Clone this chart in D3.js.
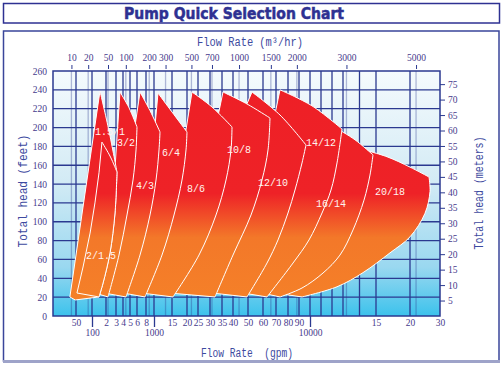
<!DOCTYPE html>
<html>
<head>
<meta charset="utf-8">
<script src="https://cdn.jsdelivr.net/npm/d3@7"></script>
<style>
body { margin: 0; background: #fff; }
text { font-family: "Liberation Serif", serif; }
</style>
</head>
<body>
<script>
// ---- data ----
const feetTicks = d3.range(0, 261, 20);
const meterTicks = d3.range(5, 76, 5);
const gpmMinorTicks = [50, 200, 300, 400, 500, 600, 800, 1500, 2000, 2500, 3000, 3500, 4000, 5000, 6000, 7000, 8000, 9000, 15000, 20000, 30000];
const gpmMinorLabels = ["50", "2", "3", "4", "5", "6", "8", "15", "20", "25", "30", "35", "40", "50", "60", "70", "80", "90", "15", "20", "30"];
const gpmMajorTicks = [100, 1000, 10000];
const gpmGridExtra = [11000, 12000, 13000, 14000];
const m3hTicks = [10, 20, 50, 100, 200, 300, 500, 700, 1000, 1500, 2000, 3000, 5000];
const GPM_PER_M3H = 4.403;
const FT_PER_M = 3.2808;

// pump models, back to front; outlines in [gpm, feet]
const pumpModels = ["20/18", "16/14", "14/12", "12/10", "10/8", "8/6", "6/4", "4/3", "3/2", "1.5/1", "2/1.5"];
const pumpTop = [
  [[13909, 178], [16618, 169], [20000, 158], [26333, 147.5]],
  [[12364, 199.5], [13727, 187], [14818, 171]],
  [[7333, 240], [10182, 223], [12909, 198.4]],
  [[5267, 237.7], [7333, 213.3], [9636, 181.5]],
  [[3545, 237.7], [4933, 225], [6538, 210.1]],
  [[2227, 237.7], [3083, 221.8], [3955, 200.6]],
  [[1111, 236.6], [1500, 216.5], [2000, 195.3]],
  [[667, 237.7], [900, 218], [1167, 195.3]],
  [[357, 237.7], [486, 221], [600, 200.6]],
  [[157, 238.8], [230, 196.3], [314, 152.8]],
  [[171, 184.6], [245, 168.7], [314, 152.8]]
];
const pumpRight = [
  [[26333, 147.5], [26667, 132], [25000, 109], [20000, 84], [17059, 67], [14212, 46], [12455, 31], [9273, 20.2]],
  [[14818, 171], [14636, 149.6], [14273, 123], [13606, 91.3], [12727, 64.7], [11182, 45.6], [9273, 29.7], [7333, 20.2]],
  [[12909, 198.4], [12455, 162.4], [11909, 133.7], [11091, 109.3], [9909, 80.7], [8455, 56.2], [6308, 20.2]],
  [[9636, 181.5], [9273, 162.4], [8636, 133.7], [8000, 109.3], [7167, 80.7], [6308, 56.2], [4933, 20.2]],
  [[6538, 210.1], [6385, 176.2], [5933, 144.3], [5200, 107.2], [4000, 64.7], [3208, 20.2]],
  [[3955, 200.6], [3909, 176.2], [3682, 144.3], [3250, 107.2], [2542, 64.7], [1533, 20.2]],
  [[2000, 195.3], [1967, 176.2], [1833, 144.3], [1567, 107.2], [1222, 64.7], [778, 20.2]],
  [[1167, 195.3], [1139, 176.2], [1056, 144.3], [900, 107.2], [667, 64.7], [443, 20.2]],
  [[600, 200.6], [586, 176.2], [543, 144.3], [457, 107.2], [343, 64.7], [220, 20.2]],
  [[314, 152.8], [290, 109.3], [240, 66.9], [179, 35], [150, 20.2]],
  [[314, 152.8], [290, 109.3], [240, 66.9], [179, 35], [150, 20.2]]
];
const pumpBase = [
  [[9273, 20.2], [6923, 24.4], [13909, 178]],
  [[7333, 20.2], [5933, 24.4], [12364, 199.5]],
  [[6308, 20.2], [4667, 24.4], [6923, 214.4], [7333, 240]],
  [[4933, 20.2], [3083, 24.4], [4867, 222.9], [5267, 237.7]],
  [[3208, 20.2], [1417, 24.4], [3333, 212.2], [3545, 237.7]],
  [[1533, 20.2], [689, 24.4], [1933, 191], [2227, 237.7]],
  [[778, 20.2], [400, 24.4], [1028, 201.6], [1111, 236.6]],
  [[443, 20.2], [186, 24.4], [571, 201.6], [667, 237.7]],
  [[220, 20.2], [121, 24.4], [290, 157.1], [357, 237.7]],
  [[150, 20.2], [49, 17], [42, 20.2], [157, 238.8]],
  [[150, 20.2], [53, 24.4], [72, 52], [94, 88], [121, 120], [150, 152], [171, 184.6]]
];
const labelGpm = [17059, 11909, 11000, 6769, 4400, 2409, 1472, 778, 443, 240, 164];
const labelFt = [132.6, 119.9, 184.6, 142.2, 176.2, 135.8, 173, 138, 183.6, 195.3, 63.7];

// ---- layout ----
const W = 502, H = 366;
const plot = { left: 53, right: 440, top: 71, bottom: 316 };
const navy = "#2b3990";
const tickColor = "#463a8c";
const titleColor = "#3d4aa0";

const svg = d3.select("body").append("svg")
  .attr("width", W)
  .attr("height", H);

// the flow axis of the original is hand drawn and irregular, so it is a polylinear scale
const xKnotsGpm = [20, 50, 100, 200, 300, 400, 500, 600, 800, 1000, 1500, 2000, 2500, 3000, 3500, 4000, 5000, 6000, 7000, 8000, 9000, 10000, 11000, 12000, 13000, 15000, 20000, 30000];
const xKnotsPx = [53, 76, 92, 106, 116, 123, 130, 137, 146, 154, 172, 187, 198, 210, 222, 233, 248, 263, 276, 288, 299, 310, 321, 332, 343, 376, 410, 440];
const x = d3.scaleLinear().domain(xKnotsGpm).range(xKnotsPx);
const xTop = d3.scaleLinear().domain(xKnotsGpm.map(g => g / GPM_PER_M3H)).range(xKnotsPx);
const y = d3.scaleLinear().domain([0, 260]).range([plot.bottom, plot.top]);
const yM = d3.scaleLinear().domain([0, 260 / FT_PER_M]).range([plot.bottom, plot.top]);

const defs = svg.append("defs");
const bg = defs.append("linearGradient").attr("id", "bg")
  .attr("x1", 0).attr("y1", 0).attr("x2", 0).attr("y2", 1);
bg.append("stop").attr("offset", "0%").attr("stop-color", "#f5fafd");
bg.append("stop").attr("offset", "45%").attr("stop-color", "#d3ebf5");
bg.append("stop").attr("offset", "80%").attr("stop-color", "#9ad8f0");
bg.append("stop").attr("offset", "100%").attr("stop-color", "#3cc2ec");

const fire = defs.append("linearGradient").attr("id", "fire")
  .attr("gradientUnits", "userSpaceOnUse")
  .attr("x1", 0).attr("y1", plot.top).attr("x2", 0).attr("y2", plot.bottom);
fire.append("stop").attr("offset", "0%").attr("stop-color", "#ee1f26");
fire.append("stop").attr("offset", "50%").attr("stop-color", "#ee2227");
fire.append("stop").attr("offset", "68%").attr("stop-color", "#f37829");
fire.append("stop").attr("offset", "100%").attr("stop-color", "#f58228");

// frames
svg.append("rect")
  .attr("x", 3.5).attr("y", 3.5).attr("width", 496).attr("height", 19.5)
  .attr("fill", "none").attr("stroke", "#2e3192").attr("stroke-width", 1.5);
svg.append("rect")
  .attr("x", 3.5).attr("y", 31).attr("width", 495.5).attr("height", 330)
  .attr("fill", "none").attr("stroke", "#3a469a").attr("stroke-width", 1.5);
svg.append("line")
  .attr("x1", 3).attr("x2", 500).attr("y1", 361.5).attr("y2", 361.5)
  .attr("stroke", "#9ea3c9").attr("stroke-width", 3);

svg.append("text")
  .attr("x", 234).attr("y", 19)
  .attr("text-anchor", "middle")
  .attr("textLength", 220)
  .attr("lengthAdjust", "spacingAndGlyphs")
  .style("font-family", "'DejaVu Sans', sans-serif")
  .style("font-weight", "bold")
  .style("font-size", "15px")
  .attr("fill", "#2e3192")
  .attr("stroke", "#2e3192")
  .attr("stroke-width", 0.5)
  .text("Pump Quick Selection Chart");

// plot background
svg.append("rect")
  .attr("x", plot.left).attr("y", plot.top)
  .attr("width", plot.right - plot.left).attr("height", plot.bottom - plot.top)
  .attr("fill", "url(#bg)");

// grid
const grid = svg.append("g");
grid.selectAll(".hgrid")
  .data(feetTicks.filter(d => d > 0 && d < 260))
  .enter().append("line")
  .attr("x1", plot.left).attr("x2", plot.right)
  .attr("y1", d => y(d)).attr("y2", d => y(d))
  .attr("stroke", navy).attr("stroke-width", 1.3);
grid.selectAll(".vtop")
  .data(m3hTicks)
  .enter().append("line")
  .attr("x1", d => xTop(d)).attr("x2", d => xTop(d))
  .attr("y1", plot.top).attr("y2", plot.bottom)
  .attr("stroke", navy).attr("stroke-opacity", 0.35).attr("stroke-width", 1.3);
grid.selectAll(".vgrid")
  .data(gpmMinorTicks.concat(gpmMajorTicks, gpmGridExtra).filter(d => d < 30000))
  .enter().append("line")
  .attr("x1", d => x(d)).attr("x2", d => x(d))
  .attr("y1", plot.top).attr("y2", plot.bottom)
  .attr("stroke", navy).attr("stroke-width", 1.3);

// pump regions
const curveLine = d3.line().x(d => x(d[0])).y(d => y(d[1])).curve(d3.curveCatmullRom.alpha(0.5));
const straightLine = d3.line().x(d => x(d[0])).y(d => y(d[1]));

function outline(i) {
  return curveLine(pumpTop[i])
    + curveLine(pumpRight[i]).replace(/^M/, "L")
    + straightLine(pumpBase[i]).replace(/^M/, "L")
    + "Z";
}

svg.append("g").selectAll("path")
  .data(pumpModels)
  .enter().append("path")
  .attr("d", (d, i) => outline(i))
  .attr("fill", "url(#fire)")
  .attr("stroke", "#ffffff")
  .attr("stroke-width", 1)
  .attr("stroke-linejoin", "round");

svg.append("g").selectAll("text")
  .data(pumpModels)
  .enter().append("text")
  .attr("x", (d, i) => x(labelGpm[i]))
  .attr("y", (d, i) => y(labelFt[i]))
  .attr("dy", "0.35em")
  .attr("text-anchor", "middle")
  .style("font-family", "'Liberation Mono', monospace")
  .style("font-size", "10px")
  .attr("fill", "#fff3ee")
  .text(d => d);

// plot border
svg.append("rect")
  .attr("x", plot.left).attr("y", plot.top)
  .attr("width", plot.right - plot.left).attr("height", plot.bottom - plot.top)
  .attr("fill", "none").attr("stroke", navy).attr("stroke-width", 1.5);

// axes
function styleAxis(g) {
  g.select(".domain").remove();
  g.selectAll("line").attr("stroke", navy);
  g.selectAll("text").attr("fill", tickColor).style("font-size", "9.5px")
    .style("font-family", "'Liberation Serif', serif");
}

svg.append("g")
  .attr("transform", `translate(${plot.left},0)`)
  .call(d3.axisLeft(y).tickValues(feetTicks).tickSize(0).tickPadding(6))
  .call(styleAxis);

svg.append("g")
  .attr("transform", `translate(${plot.right},0)`)
  .call(d3.axisRight(yM).tickValues(meterTicks).tickSize(5).tickPadding(3))
  .call(styleAxis);

svg.append("g")
  .attr("transform", `translate(0,${plot.bottom})`)
  .call(d3.axisBottom(x).tickValues(gpmMinorTicks).tickFormat((d, i) => gpmMinorLabels[i]).tickSize(0).tickPadding(3))
  .call(styleAxis);

svg.append("g")
  .attr("transform", `translate(0,${plot.bottom})`)
  .call(d3.axisBottom(x).tickValues(gpmMajorTicks).tickFormat(d3.format("d")).tickSize(11).tickPadding(2))
  .call(styleAxis)
  .call(g => g.selectAll("line").attr("stroke-width", 1.3));

svg.append("g")
  .attr("transform", `translate(0,${plot.top - 2})`)
  .call(d3.axisTop(xTop).tickValues(m3hTicks).tickFormat(d3.format("d")).tickSize(4).tickPadding(4))
  .call(styleAxis);

// axis titles
function axisTitle(txt, tx, ty, rot, len) {
  svg.append("text")
    .attr("transform", `translate(${tx},${ty}) rotate(${rot})`)
    .attr("text-anchor", "middle")
    .attr("textLength", len)
    .attr("lengthAdjust", "spacingAndGlyphs")
    .style("font-family", "'Liberation Mono', monospace")
    .style("font-size", "12px")
    .style("white-space", "pre")
    .attr("fill", titleColor)
    .text(txt);
}
axisTitle("Flow Rate (m\u00b3/hr)", 250, 46, 0, 106);
axisTitle("Flow Rate  (gpm)", 247, 357, 0, 92);
axisTitle("Total head (feet)", 27, 191, -90, 113);
axisTitle("Total head (meters)", 483, 193, -90, 113);
</script>
</body>
</html>
